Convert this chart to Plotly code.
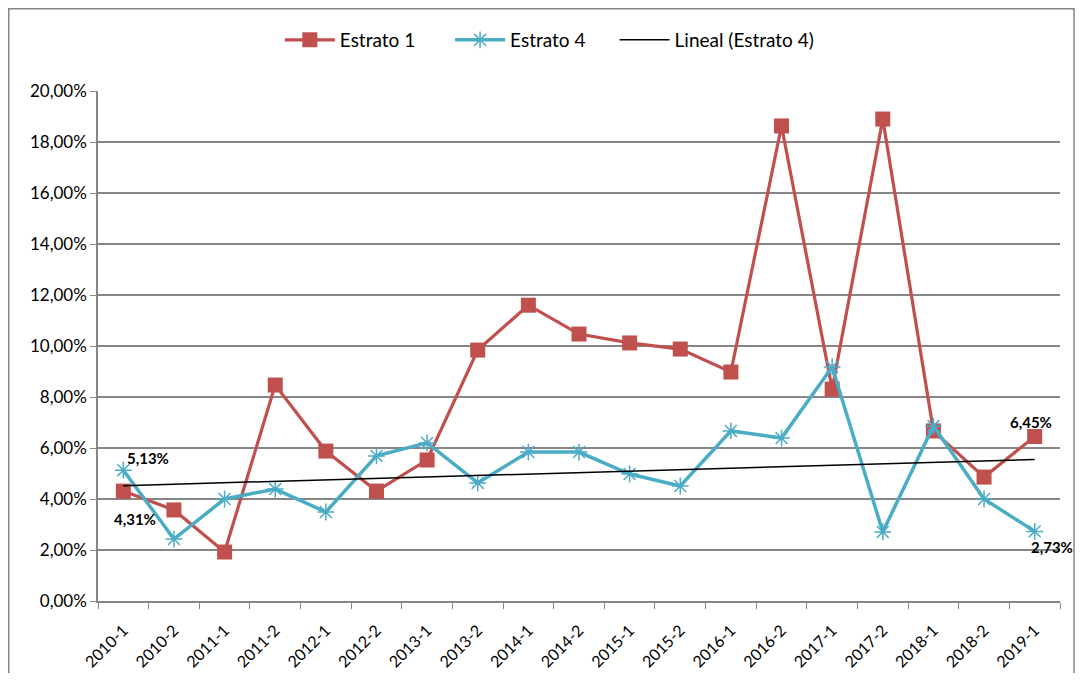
import numpy as np
import plotly.graph_objects as go

categories = ["2010-1", "2010-2", "2011-1", "2011-2", "2012-1", "2012-2", "2013-1", "2013-2",
              "2014-1", "2014-2", "2015-1", "2015-2", "2016-1", "2016-2", "2017-1", "2017-2",
              "2018-1", "2018-2", "2019-1"]
estrato1 = [4.31, 3.57, 1.92, 8.47, 5.88, 4.31, 5.53, 9.84, 11.60, 10.47, 10.12, 9.88,
            8.98, 18.63, 8.31, 18.90, 6.67, 4.86, 6.45]
estrato4 = [5.13, 2.43, 4.00, 4.39, 3.49, 5.69, 6.20, 4.63, 5.84, 5.84, 4.98, 4.51,
            6.67, 6.39, 9.18, 2.71, 6.86, 4.00, 2.73]
y_ticks = [0, 2, 4, 6, 8, 10, 12, 14, 16, 18, 20]

FONT = "Lato"
n = len(categories)
idx = np.arange(1, n + 1)
slope, intercept = np.polyfit(idx, estrato4, 1)
trend = slope * idx + intercept

def fmt(v):
    return f"{v:.2f}".replace(".", ",") + "%"

fig = go.Figure()
fig.add_trace(go.Scatter(
    x=categories, y=estrato1, name="Estrato 1", mode="lines+markers",
    line=dict(color="#C0504D", width=3.2),
    marker=dict(symbol="square", size=15, color="#C0504D"),
    cliponaxis=False, legend="legend",
))
fig.add_trace(go.Scatter(
    x=categories, y=estrato4, name="Estrato 4", mode="lines+markers",
    line=dict(color="#4BACC6", width=3.5),
    marker=dict(symbol="asterisk-open", size=14, line=dict(color="#4BACC6", width=1.5)),
    cliponaxis=False, legend="legend2",
))
fig.add_trace(go.Scatter(
    x=categories, y=trend, name="Lineal (Estrato 4)", mode="lines",
    line=dict(color="#000000", width=1.5), hoverinfo="skip", legend="legend3",
))

lab_font = dict(family=FONT, size=15, color="#000000", weight="bold")
annotations = [
    dict(x=categories[0], y=estrato4[0], text=fmt(estrato4[0]), xanchor="left", yanchor="middle",
         xshift=2, yshift=12, showarrow=False, font=lab_font),
    dict(x=categories[0], y=estrato1[0], text=fmt(estrato1[0]), xanchor="center", yanchor="middle",
         xshift=12, yshift=-28, showarrow=False, font=lab_font),
    dict(x=categories[-1], y=estrato1[-1], text=fmt(estrato1[-1]), xanchor="center", yanchor="middle",
         xshift=-4, yshift=15, showarrow=False, font=lab_font),
    dict(x=categories[-1], y=estrato4[-1], text=fmt(estrato4[-1]), xanchor="left", yanchor="middle",
         xshift=-6, yshift=-16, showarrow=False, font=lab_font),
]

def leg(xpos):
    return dict(orientation="h", x=xpos, xanchor="left", y=1.1, yanchor="middle",
                font=dict(family=FONT, size=19), itemwidth=50, bgcolor="rgba(0,0,0,0)")

# the page body adds an 8 px offset, so figure coords = screen coords - 8
fig.update_layout(
    width=1067, height=665,
    margin=dict(l=90, r=15, t=83, b=72, autoexpand=False),
    paper_bgcolor="white", plot_bgcolor="white",
    font=dict(family=FONT, size=16, color="#000000"),
    showlegend=True,
    legend=leg(0.189), legend2=leg(0.366), legend3=leg(0.537),
    xaxis=dict(
        type="category", tickangle=-45, tickson="boundaries", ticks="outside",
        ticklen=6, tickcolor="#868686", showline=True, linecolor="#868686", linewidth=1.5,
        showgrid=False, tickfont=dict(family=FONT, size=16), range=[-0.5, n - 0.5],
        automargin=False, ticklabelstandoff=12,
    ),
    yaxis=dict(
        range=[0, 20], tickvals=y_ticks, ticktext=[fmt(v) for v in y_ticks],
        ticks="outside", ticklen=6, tickcolor="#868686",
        showline=True, linecolor="#868686", linewidth=1.5,
        showgrid=True, gridcolor="#868686", gridwidth=1.5, zeroline=False,
        tickfont=dict(family=FONT, size=17), automargin=False,
    ),
    annotations=annotations,
    shapes=[dict(type="rect", xref="paper", yref="paper",
                 x0=(0.75 - 90) / 962, x1=(1066 - 90) / 962,
                 y0=(593 - 700) / 510, y1=(593 - 0.75) / 510,
                 line=dict(color="#868686", width=1.5), fillcolor="rgba(0,0,0,0)", layer="below")],
)

fig.write_html("out.html")
